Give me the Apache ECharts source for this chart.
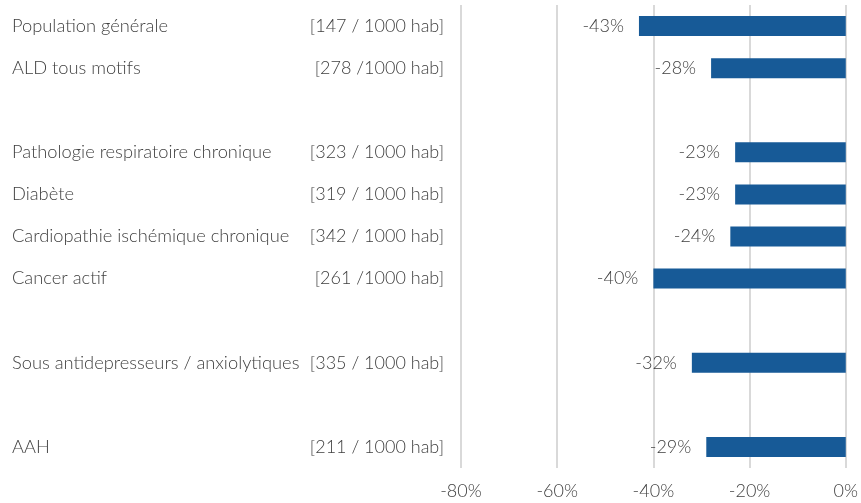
<!DOCTYPE html>
<html>
<head>
<meta charset="utf-8">
<script src="https://cdn.jsdelivr.net/npm/echarts@6/dist/echarts.min.js"></script>
<style>
  html, body { margin: 0; padding: 0; background: #fff; }
  #chart { width: 861px; height: 503px; }
</style>
</head>
<body>
<div id="chart"></div>
<script>
// categories (empty strings = spacer rows)
var names = ['Population générale', 'ALD tous motifs', '', 'Pathologie respiratoire chronique', 'Diabète',
  'Cardiopathie ischémique chronique', 'Cancer actif', '', 'Sous antidepresseurs / anxiolytiques', '', 'AAH'];
var rates = ['[147 / 1000 hab]', '[278 /1000 hab]', '', '[323 / 1000 hab]', '[319 / 1000 hab]',
  '[342 / 1000 hab]', '[261 /1000 hab]', '', '[335 / 1000 hab]', '', '[211 / 1000 hab]'];
var values = [-43, -28, null, -23, -23, -24, -40, null, -32, null, -29];
var xTicks = [-80, -60, -40, -20, 0];

var cats = names.map(function (n, i) { return String(i); });

var myChart = echarts.init(document.getElementById('chart'));

var option = {
    animation: false,
    textStyle: { fontFamily: 'Lato', fontWeight: 300 },
    grid: { left: 461, right: 14, top: 5, bottom: 35 },
    xAxis: {
        type: 'value',
        min: xTicks[0],
        max: xTicks[xTicks.length - 1],
        interval: 20,
        axisLine: { show: false },
        axisTick: { show: false },
        splitLine: { show: true, lineStyle: { color: '#d9d9d9', width: 2 } },
        axisLabel: {
            color: '#404040',
            fontSize: 18,
            fontFamily: 'Lato',
            fontWeight: 300,
            margin: 14,
            formatter: function (v) { return v + '%'; }
        }
    },
    yAxis: {
        type: 'category',
        inverse: true,
        data: cats,
        axisLine: { show: false },
        axisTick: { show: false },
        axisLabel: {
            margin: 17,
            interval: 0,
            formatter: function (v) {
                var i = +v;
                if (!names[i]) return '';
                return '{n|' + names[i] + '}{v|' + rates[i] + '}';
            },
            rich: {
                n: { width: 302, align: 'left', fontSize: 18.3, color: '#404040', fontFamily: 'Lato', fontWeight: 300 },
                v: { width: 130, align: 'right', fontSize: 18, color: '#404040', fontFamily: 'Lato', fontWeight: 300 }
            }
        }
    },
    series: [{
        type: 'bar',
        data: values,
        barWidth: 20,
        itemStyle: { color: '#175a97' },
        label: {
            show: true,
            position: 'left',
            distance: 15,
            color: '#404040',
            fontSize: 18,
            fontFamily: 'Lato',
            fontWeight: 300,
            formatter: function (p) { return p.value == null ? '' : p.value + '%'; }
        }
    }]
};

myChart.setOption(option);
</script>
</body>
</html>
